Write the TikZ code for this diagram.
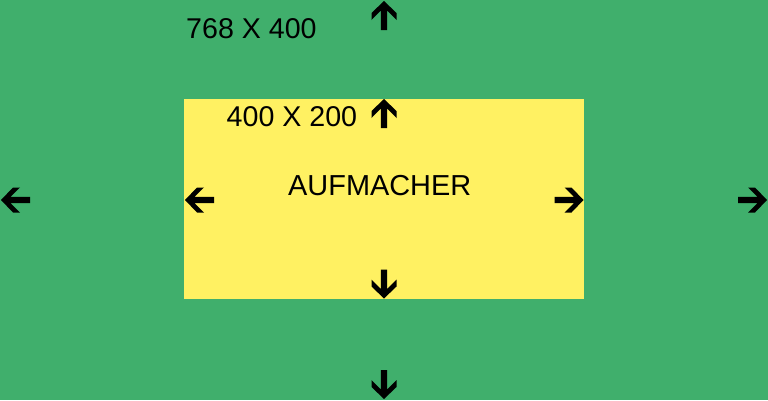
\documentclass[tikz,border=0pt]{standalone}
\usepackage{fontspec}
\setmainfont{Liberation Sans}
\definecolor{bggreen}{RGB}{64,175,108}
\definecolor{boxyellow}{RGB}{255,241,98}
\begin{document}
\begin{tikzpicture}[x=1pt,y=-1pt,
  lbl/.style={inner sep=0pt,anchor=base west,font=\fontsize{28.6}{30}\selectfont},
  arr/.pic={\fill[black] (0,0) -- (12.5,12) -- (12.5,19) -- (3.2,9.5) -- (3.2,29) -- (-3.2,29) -- (-3.2,9.5) -- (-12.5,19) -- (-12.5,12) -- cycle;}]
\useasboundingbox (0,0) rectangle (768,400);
\fill[bggreen] (0,0) rectangle (768,400);
\fill[boxyellow] (184,99) rectangle (584,299);
\node[lbl] (outer) at (186,38) {768 X 400};
\node[lbl] (inner) at (226.5,126) {400 X 200};
\node[lbl] (title) at (288,195) {\fontsize{28.9}{30}\selectfont AUFMACHER};
% outer arrows
\pic at (384,1) {arr};
\pic[rotate=180] at (384,399) {arr};
\pic[rotate=90] at (1,200) {arr};
\pic[rotate=-90] at (767,200) {arr};
% inner arrows
\pic at (384,99) {arr};
\pic[rotate=180] at (384,298.5) {arr};
\pic[rotate=90] at (185,200) {arr};
\pic[rotate=-90] at (583.5,200) {arr};
\end{tikzpicture}
\end{document}
